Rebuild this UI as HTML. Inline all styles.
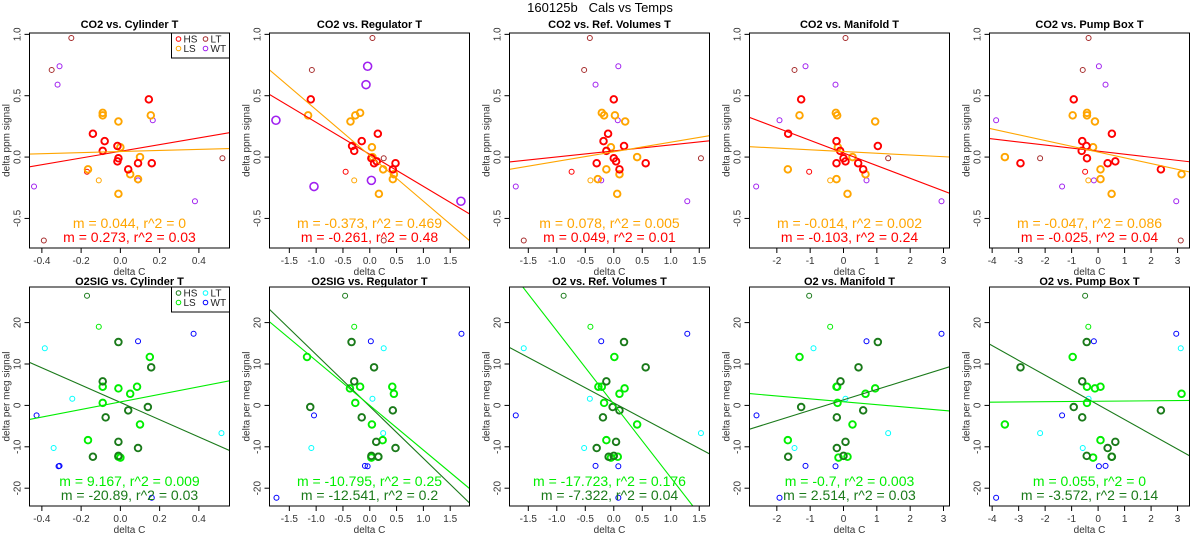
<!DOCTYPE html>
<html><head><meta charset="utf-8"><style>
body{margin:0;background:#fff;}
svg{display:block;font-family:"Liberation Sans",sans-serif;}
</style></head><body>
<svg id="chart" width="1200" height="550" viewBox="0 0 1200 550"></svg>
<script>
// ---- data ----
const panelTitlesTop = ["CO2 vs. Cylinder T","CO2 vs. Regulator T","CO2 vs. Ref. Volumes T","CO2 vs. Manifold T","CO2 vs. Pump Box T"];
const panelTitlesBottom = ["O2SIG vs. Cylinder T","O2SIG vs. Regulator T","O2 vs. Ref. Volumes T","O2 vs. Manifold T","O2 vs. Pump Box T"];
const xDomains = [[-0.463,0.556],[-1.87,1.86],[-1.83,1.68],[-2.82,3.18],[-4.10,3.45]];
const xTicks = [[-0.4,-0.2,0,0.2,0.4],[-1.5,-1,-0.5,0,0.5,1,1.5],[-1.5,-1,-0.5,0,0.5,1,1.5],[-2,-1,0,1,2,3],[-4,-3,-2,-1,0,1,2,3]];
const xTickLabels = [["-0.4","-0.2","0.0","0.2","0.4"],["-1.5","-1.0","-0.5","0.0","0.5","1.0","1.5"],["-1.5","-1.0","-0.5","0.0","0.5","1.0","1.5"],["-2","-1","0","1","2","3"],["-4","-3","-2","-1","0","1","2","3"]];
const co2Domain = [-0.741,1.011];
const co2Ticks = [-0.5,0,0.5,1];
const co2TickLabels = ["-0.5","0.0","0.5","1.0"];
const o2Domain = [-24.3,28.6];
const o2Ticks = [-20,-10,0,10,20];
const o2TickLabels = ["-20","-10","0","10","20"];

// CO2 row
const co2HsY = [0.47,0.19,0.13,0.09,0.05,-0.01,-0.035,-0.05,-0.05,-0.10];
const co2HsX = [[0.145,-0.14,-0.08,-0.015,-0.09,-0.01,-0.015,0.09,0.16,0.04],[-1.1,0.15,-0.15,-0.33,-0.29,0.03,0.13,0.08,0.48,0.43],[0,-0.1,-0.18,0.18,-0.13,0,0.04,-0.3,0.56,0.1],[-1.27,-1.66,-0.21,1.03,-0.1,0,0.06,-0.21,0.44,0.59],[-0.92,0.52,-0.6,-0.44,-0.62,-0.42,0.65,-2.93,0.36,2.37]];
const co2LsY = [0.36,0.34,0.34,0.29,0.08,0.0,-0.10,-0.14,-0.18,-0.30];
const co2LsX = [[-0.09,-0.09,0.155,-0.01,0.0,0.1,-0.165,0.05,0.09,-0.01],[-0.18,-0.27,-1.15,-0.36,0.04,0.05,0.25,0.45,0.43,0.17],[-0.21,-0.17,0.02,0.2,-0.05,0.41,-0.13,0.1,-0.28,0.06],[-0.23,-1.32,-0.19,0.95,-0.17,0.27,-1.67,0.66,-0.21,0.12],[-0.42,-0.96,-0.42,-0.12,-0.19,-3.52,0.09,3.15,0.09,0.51]];
const co2LtY = [0.97,0.71,-0.01,-0.68];
const co2LtX = [[-0.25,-0.35,0.52,-0.39],[0.05,-1.08,0.26,0.26],[-0.42,-0.52,1.53,-1.58],[0.06,-1.47,1.34,null],[-0.36,-0.58,-2.19,3.12]];
const co2WtY = [0.74,0.59,0.30,-0.24,-0.19,-0.36];
const co2WtX = [[-0.31,-0.32,0.165,-0.44,0.09,0.38],[-0.04,-0.07,-1.75,-1.04,0.03,1.7],[0.08,-0.32,0.07,-1.72,-0.22,1.29],[-1.14,-0.24,-1.92,-2.62,0.69,2.94],[0.03,0.28,-3.85,-1.36,-0.16,2.95]];
const co2SmallHsY = [-0.12];
const co2SmallHsX = [[-0.17],[-0.45],[-0.74],[-1.03],[-0.49]];
const co2SmallLsY = [-0.19];
const co2SmallLsX = [[-0.11],[-0.29],[-0.41],[-0.4],[-0.37]];
const co2HsSlope = [0.273,-0.261,0.049,-0.103,-0.025];
const co2HsIntercept = [0.047,0.022,0.05,0.033,0.048];
const co2LsSlope = [0.044,-0.373,0.078,-0.014,-0.047];
const co2LsIntercept = [0.045,0.013,0.043,0.045,0.041];
const co2LsLabels = ["m = 0.044, r^2 = 0","m = -0.373, r^2 = 0.469","m = 0.078, r^2 = 0.005","m = -0.014, r^2 = 0.002","m = -0.047, r^2 = 0.086"];
const co2HsLabels = ["m = 0.273, r^2 = 0.03","m = -0.261, r^2 = 0.48","m = 0.049, r^2 = 0.01","m = -0.103, r^2 = 0.24","m = -0.025, r^2 = 0.04"];

// O2 row
const o2HsY = [15.3,9.2,5.8,-0.4,-1.2,-2.9,-8.8,-10.3,-12.4,-12.2];
const o2HsX = [[-0.01,0.157,-0.09,0.14,0.04,-0.075,-0.01,0.09,-0.14,-0.01],[-0.34,0.08,-0.29,-1.11,0.43,-0.15,0.12,0.48,0.16,0.03],[0.18,0.56,-0.13,-0.02,0.1,-0.19,0.04,-0.3,-0.09,0],[1.03,0.45,-0.09,-1.27,0.59,-0.2,0.06,-0.2,-1.66,0],[-0.43,-2.93,-0.6,-0.92,2.37,-0.6,0.65,0.36,0.52,-0.43]];
const o2LsY = [11.7,4.5,4.5,4.1,2.8,0.6,-4.6,-8.4,-12.6,-12.4];
const o2LsX = [[0.15,-0.09,0.085,-0.01,0.05,-0.09,0.1,-0.165,0.0,-0.01],[-1.17,-0.18,0.42,-0.37,0.45,-0.27,0.04,0.24,0.03,0.16],[0.01,-0.27,-0.21,0.19,0.1,-0.17,0.41,-0.13,-0.05,0.07],[-1.32,-0.21,-0.19,0.95,0.66,-0.18,0.27,-1.67,-0.15,0.12],[-0.96,-0.42,0.09,-0.12,3.15,-0.42,-3.52,0.09,-0.19,0.51]];
const o2LtY = [13.8,1.6,-10.3,-6.7];
const o2LtX = [[-0.385,-0.245,-0.34,0.515],[0.26,0.05,-1.09,0.25],[-1.58,-0.42,-0.52,1.53],[-0.9,0.06,-1.47,1.34],[3.12,-0.36,-0.58,-2.19]];
const o2WtY = [15.5,17.3,-2.4,-14.6,-14.7,-22.3];
const o2WtX = [[0.09,0.373,-0.427,-0.31,-0.315,0.16],[0.02,1.71,-1.04,-0.09,-0.04,-1.74],[-0.22,1.29,-1.72,-0.32,0.08,0.08],[0.69,2.94,-2.61,-1.14,-0.24,-1.92],[-0.16,2.95,-1.36,0.28,0.03,-3.85]];
const o2SmallHsY = [26.5];
const o2SmallHsX = [[-0.17],[-0.46],[-0.88],[-1.03],[-0.49]];
const o2SmallLsY = [19.0];
const o2SmallLsX = [[-0.11],[-0.29],[-0.41],[-0.4],[-0.37]];
const o2HsSlope = [-20.89,-12.541,-7.322,2.514,-3.572];
const o2HsIntercept = [0.73,-0.25,0.6,1.34,0.15];
const o2LsSlope = [9.167,-10.795,-17.723,-0.7,0.055];
const o2LsIntercept = [0.84,0.0,0.3,0.88,1.0];
const o2LsLabels = ["m = 9.167, r^2 = 0.009","m = -10.795, r^2 = 0.25","m = -17.723, r^2 = 0.176","m = -0.7, r^2 = 0.003","m = 0.055, r^2 = 0"];
const o2HsLabels = ["m = -20.89, r^2 = 0.03","m = -12.541, r^2 = 0.2","m = -7.322, r^2 = 0.04","m = 2.514, r^2 = 0.03","m = -3.572, r^2 = 0.14"];

// ---- drawing ----
const NS = "http://www.w3.org/2000/svg";
const svg = document.getElementById("chart");
function mk(tag, attrs, parent){
  const e = document.createElementNS(NS, tag);
  for (const k in attrs) e.setAttribute(k, attrs[k]);
  (parent||svg).appendChild(e);
  return e;
}
const title = mk("text",{x:600,y:12,"text-anchor":"middle","font-size":13,fill:"#000",style:"white-space:pre"});


title.textContent = "160125b   Cals vs Temps";

const C = {hs1:"#ff0000",ls1:"#ffa500",lt1:"#a52a2a",wt1:"#a020f0",hs2:"#1a7a1a",ls2:"#00ee00",lt2:"#00ffff",wt2:"#0000ff"};

function drawPanel(row, col){
  const L = col*240 + 29.5, R = L + 200;
  const T = row===0 ? 33 : 287, B = row===0 ? 248 : 506;
  const xd = xDomains[col];
  const yd = row===0 ? co2Domain : o2Domain;
  const sx = v => L + (v - xd[0])/(xd[1]-xd[0])*(R-L);
  const sy = v => B - (v - yd[0])/(yd[1]-yd[0])*(B-T);
  const g = mk("g",{});
  
  
  const cid = "clip"+row+"_"+col;
  const cp = mk("clipPath",{id:cid},g);
  mk("rect",{x:L,y:T,width:R-L,height:B-T},cp);

  const t = mk("text",{x:(L+R)/2,y:row===0?T-5:T-2,"text-anchor":"middle","font-size":11,"font-weight":"bold"},g);
  
  
  t.textContent = row===0 ? panelTitlesTop[col] : panelTitlesBottom[col];

  // x axis
  const xa = mk("g",{},g);
  
  
  xTicks[col].forEach((v,i)=>{
    const x = sx(v);
    mk("line",{x1:x,x2:x,y1:B,y2:B+5,stroke:"#000","stroke-width":1},xa);
    const tl = mk("text",{x:x,y:B+16,"text-anchor":"middle","font-size":10,fill:"#333"},xa);
    
    
    tl.textContent = xTickLabels[col][i];
  });
  const xt = mk("text",{x:(L+R)/2,y:B+27,"text-anchor":"middle","font-size":10,fill:"#333"},g);
  
  
  xt.textContent = "delta C";

  // y axis
  const ya = mk("g",{},g);
  
  
  const yt = row===0?co2Ticks:o2Ticks, ytl = row===0?co2TickLabels:o2TickLabels;
  yt.forEach((v,i)=>{
    const y = sy(v);
    mk("line",{x1:L-5,x2:L,y1:y,y2:y,stroke:"#000","stroke-width":1},ya);
    const tl = mk("text",{x:L-9,y:y,"text-anchor":"middle","font-size":10,fill:"#333",transform:`rotate(-90 ${L-9} ${y})`},ya);
    
    
    tl.textContent = ytl[i];
  });
  const ymid = (T+B)/2, yx = L-20;
  const ytt = mk("text",{x:yx,y:ymid,"text-anchor":"middle","font-size":10,fill:"#333",transform:`rotate(-90 ${yx} ${ymid})`},g);
  
  
  ytt.textContent = row===0 ? "delta ppm signal" : "delta per meg signal";

  const pts = mk("g",{"clip-path":`url(#${cid})`},g);
  function series(xs, ys, color, r, w, name){
    const sg = mk("g",{},pts);
    
    
    ys.forEach((yv,i)=>{
      const xv = xs[i];
      if (xv===null || xv===undefined) return;
      const c = mk("circle",{cx:sx(xv),cy:sy(yv),r:r,fill:"none",stroke:color,"stroke-width":w},sg);
      
      
    });
  }
  function fitLine(m, b, color, name){
    const ln = mk("line",{x1:sx(xd[0]),y1:sy(b+m*xd[0]),x2:sx(xd[1]),y2:sy(b+m*xd[1]),stroke:color,"stroke-width":1.1},pts);
    
    
  }
  const RT = 3.3, WT = 1.9, RS = 2.5;
  if (row===0){
    const wr = col===1 ? 4 : RS;
    series(co2LtX[col], co2LtY, C.lt1, RS, 1, 'lt-series');
    series(co2WtX[col], co2WtY, C.wt1, wr, col===1?1.6:1, 'wt-series');
    series(co2SmallHsX[col], co2SmallHsY, C.hs1, RS, 1, 'hs-small-series');
    series(co2SmallLsX[col], co2SmallLsY, C.ls1, RS, 1, 'ls-small-series');
    series(co2LsX[col], co2LsY, C.ls1, RT, WT, 'ls-series');
    series(co2HsX[col], co2HsY, C.hs1, RT, WT, 'hs-series');
    fitLine(co2HsSlope[col], co2HsIntercept[col], C.hs1, 'hs-fit-line');
    fitLine(co2LsSlope[col], co2LsIntercept[col], C.ls1, 'ls-fit-line');
  } else {
    series(o2LtX[col], o2LtY, C.lt2, RS, 1, 'lt-series');
    series(o2WtX[col], o2WtY, C.wt2, RS, 1, 'wt-series');
    series(o2SmallHsX[col], o2SmallHsY, C.hs2, RS, 1, 'hs-small-series');
    series(o2SmallLsX[col], o2SmallLsY, C.ls2, RS, 1, 'ls-small-series');
    series(o2LsX[col], o2LsY, C.ls2, RT, WT, 'ls-series');
    series(o2HsX[col], o2HsY, C.hs2, RT, WT, 'hs-series');
    fitLine(o2HsSlope[col], o2HsIntercept[col], C.hs2, 'hs-fit-line');
    fitLine(o2LsSlope[col], o2LsIntercept[col], C.ls2, 'ls-fit-line');
  }
  const a1 = mk("text",{x:(L+R)/2,y:B-20,"text-anchor":"middle","font-size":14,fill:row===0?C.ls1:C.ls2},g);
  
  
  a1.textContent = row===0 ? co2LsLabels[col] : o2LsLabels[col];
  const a2 = mk("text",{x:(L+R)/2,y:B-6,"text-anchor":"middle","font-size":14,fill:row===0?C.hs1:C.hs2},g);
  
  
  a2.textContent = row===0 ? co2HsLabels[col] : o2HsLabels[col];

  const box = mk("rect",{x:L,y:T,width:R-L,height:B-T,fill:"none",stroke:"#000","stroke-width":1},g);
  
  

  if (col===0){
    const lg = mk("g",{},g);
    
    
    mk("rect",{x:R-58,y:T,width:58,height:25,fill:"#fff",stroke:"#000","stroke-width":1},lg);
    const ents = row===0 ? [["HS",C.hs1,0,0],["LS",C.ls1,0,1],["LT",C.lt1,1,0],["WT",C.wt1,1,1]]
                         : [["HS",C.hs2,0,0],["LS",C.ls2,0,1],["LT",C.lt2,1,0],["WT",C.wt2,1,1]];
    ents.forEach(e=>{
      const ex = R-51 + e[2]*27, ey = T+6 + e[3]*9.5;
      const eg = mk("g",{},lg);
      
      
      mk("circle",{cx:ex,cy:ey,r:2.3,fill:"none",stroke:e[1],"stroke-width":1},eg);
      const lt = mk("text",{x:ex+5,y:ey+3.5,"font-size":10,fill:"#222"},eg);
      lt.textContent = e[0];
    });
  }
}
for (let r=0;r<2;r++) for (let c=0;c<5;c++) drawPanel(r,c);
</script>
</body></html>
